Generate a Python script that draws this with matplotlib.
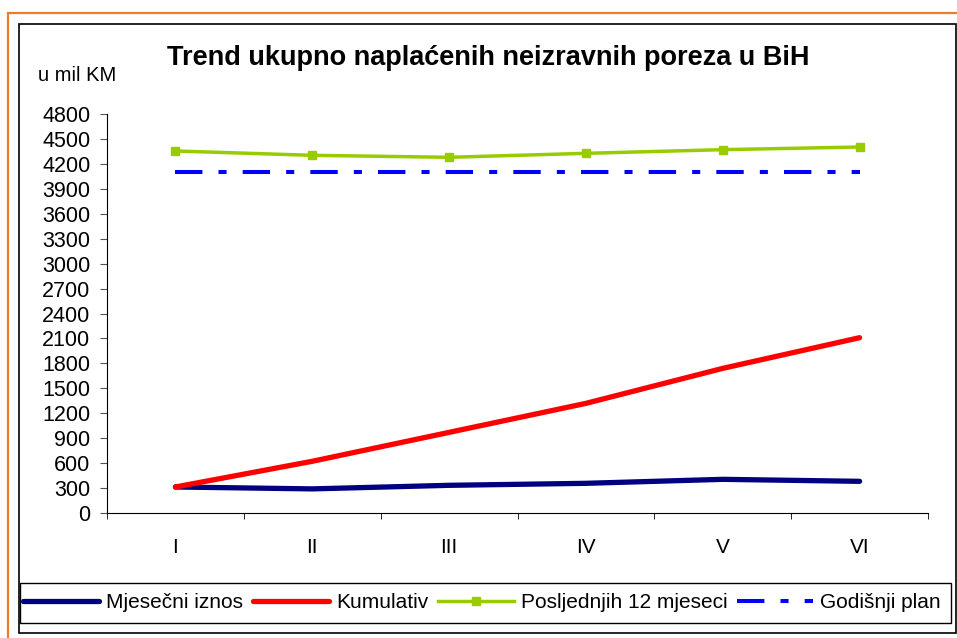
import numpy as np
import matplotlib.pyplot as plt
from matplotlib.patches import Rectangle

plt.rcParams['font.family'] = ['Liberation Sans', 'DejaVu Sans']

mjeseci = ['I', 'II', 'III', 'IV', 'V', 'VI']
mjesecni_iznos = [313, 290, 333, 357, 405, 381]
kumulativ = [313, 622, 970, 1319, 1740, 2109]
posljednjih_12 = [4355, 4303, 4279, 4327, 4371, 4403]
godisnji_plan = [4106, 4106, 4106, 4106, 4106, 4106]
y_ticks = list(range(0, 4801, 300))

W, H = 957, 638
fig = plt.figure(figsize=(W / 100, H / 100), dpi=100)

def px(x0, y0, x1, y1):
    # pixel box (top-left origin) -> figure fractions
    return [x0 / W, 1 - y1 / H, (x1 - x0) / W, (y1 - y0) / H]

# outer orange frame, black chart frame, legend box
fig.patches.append(Rectangle((8 / W, -0.1), 1.2, 1 - 13 / H + 0.1, transform=fig.transFigure,
                             fill=False, edgecolor='#F07A26', lw=1.6, zorder=0))
fig.patches.append(Rectangle((19 / W, 1 - 633 / H), (956 - 19) / W, (633 - 24) / H,
                             transform=fig.transFigure, fill=False, edgecolor='black', lw=1.2, zorder=1))
fig.patches.append(Rectangle((20 / W, 1 - 623 / H), (951 - 20) / W, 40 / H,
                             transform=fig.transFigure, fill=False, edgecolor='black', lw=1.0, zorder=1))

ax = fig.add_axes(px(107, 114, 928, 513))
x = np.arange(1, len(mjeseci) + 1)

ax.plot(x, mjesecni_iznos, color='#000080', lw=3.8, solid_capstyle='round', label='Mjesečni iznos', zorder=3)
ax.plot(x, kumulativ, color='#FF0000', lw=3.8, solid_capstyle='round', label='Kumulativ', zorder=4)
ax.plot(x, posljednjih_12, color='#99CC00', lw=2.5, marker='s', ms=5.5, label='Posljednjih 12 mjeseci', zorder=3)
ax.plot(x, godisnji_plan, color='#0000FF', lw=2.9, dash_capstyle='butt',
        linestyle=(0, (6.8, 4, 2, 4)), label='Godišnji plan', zorder=3)

ax.set_xlim(0.5, 6.5)
ax.set_ylim(0, 4800)
ax.set_yticks(y_ticks)
ax.set_xticks(x)
ax.set_xticklabels(mjeseci)
ax.set_xticks(np.arange(0.5, 7, 1), minor=True)
ax.tick_params(axis='x', which='major', length=0, pad=18, labelsize=15)
ax.tick_params(axis='x', which='minor', length=4, direction='out')
ax.tick_params(axis='y', length=5, direction='out', labelsize=15.5, pad=7, color='#555555')
for s in ['top', 'right']:
    ax.spines[s].set_visible(False)

fig.text(488 / W, 1 - 65 / H, 'Trend ukupno naplaćenih neizravnih poreza u BiH',
         ha='center', va='baseline', fontsize=19.5, fontweight='bold')
fig.text(38 / W, 1 - 81 / H, 'u mil KM', ha='left', va='baseline', fontsize=14.5)

leg = fig.legend(loc='center left', bbox_to_anchor=(23 / W, 1 - 603 / H), ncol=4,
                 frameon=False, fontsize=15,
                 handlelength=3.65, handletextpad=0.35, columnspacing=0.45,
                 borderaxespad=0, borderpad=0)

fig.savefig('out.png', dpi=100)
